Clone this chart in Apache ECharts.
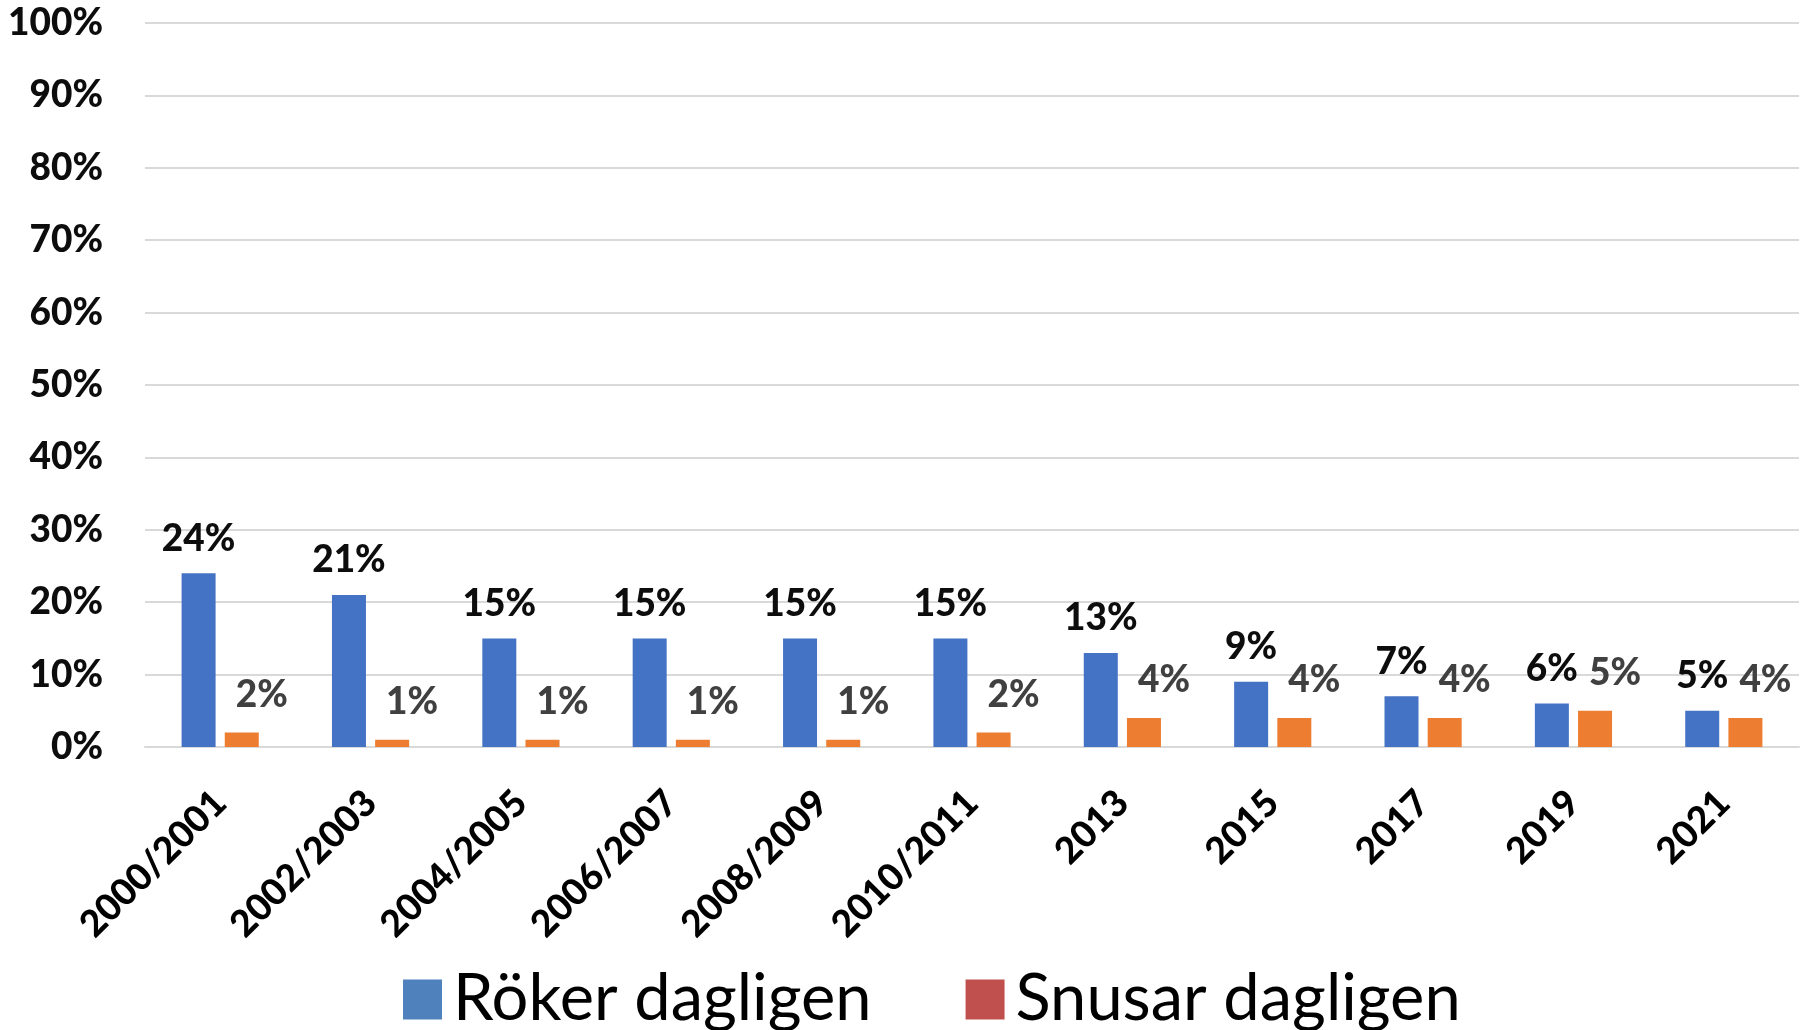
<!DOCTYPE html>
<html>
<head>
<meta charset="utf-8">
<script src="https://cdn.jsdelivr.net/npm/echarts@6/dist/echarts.min.js"></script>
<style>
  html, body { margin: 0; padding: 0; background: #fff; }
  #chart { width: 1814px; height: 1030px; }
</style>
</head>
<body>
<div id="chart"></div>
<script>
// Andel som röker / snusar dagligen, per undersökningsår
const categories = ['2000/2001', '2002/2003', '2004/2005', '2006/2007', '2008/2009', '2010/2011', '2013', '2015', '2017', '2019', '2021'];
const rokerDagligen = [24, 21, 15, 15, 15, 15, 13, 9, 7, 6, 5];
const snusarDagligen = [2, 1, 1, 1, 1, 2, 4, 4, 4, 5, 4];

const FONT = 'Lato, "Noto Sans", sans-serif';

const chart = echarts.init(document.getElementById('chart'));

const option = {
    animation: false,
    grid: { left: 145, right: 15, top: 23, bottom: 283 },
    legend: {
        left: 398,
        top: 962,
        itemWidth: 39,
        itemHeight: 40,
        itemGap: 94,
        icon: 'rect',
        textStyle: { fontFamily: FONT, fontSize: 65, color: '#000', padding: [0, 0, 0, 6] },
        data: [
            { name: 'Röker dagligen', itemStyle: { color: '#4F81BD' } },
            { name: 'Snusar dagligen', itemStyle: { color: '#C0504D' } },
        ],
    },
    xAxis: {
        type: 'category',
        data: categories,
        axisLine: { lineStyle: { color: '#d9d9d9', width: 2 } },
        axisTick: { show: false },
        axisLabel: {
            rotate: 45,
            margin: 50,
            fontFamily: FONT,
            fontSize: 37,
            fontWeight: 900,
            color: '#000',
            interval: 0,
        },
    },
    yAxis: {
        type: 'value',
        min: 0,
        max: 100,
        interval: 10,
        axisLine: { show: false },
        axisTick: { show: false },
        splitLine: { lineStyle: { color: '#d9d9d9', width: 2 } },
        axisLabel: {
            formatter: '{value}%',
            margin: 42,
            fontFamily: FONT,
            fontSize: 37,
            fontWeight: 900,
            color: '#0d0d0d',
        },
    },
    series: [
        {
            name: 'Röker dagligen',
            type: 'bar',
            data: rokerDagligen,
            barWidth: 34,
            barGap: '27%',
            itemStyle: { color: '#4472C4' },
            label: {
                show: true,
                position: 'top',
                distance: 16,
                formatter: '{c}%',
                fontFamily: FONT,
                fontSize: 37,
                fontWeight: 900,
                color: '#0d0d0d',
            },
        },
        {
            name: 'Snusar dagligen',
            type: 'bar',
            data: snusarDagligen,
            barWidth: 34,
            itemStyle: { color: '#ED7D31' },
            label: {
                show: true,
                position: 'top',
                distance: 19,
                offset: [20, 0],
                formatter: '{c}%',
                fontFamily: FONT,
                fontSize: 37,
                fontWeight: 900,
                color: '#404040',
            },
        },
    ],
};

chart.setOption(option);
</script>
</body>
</html>
